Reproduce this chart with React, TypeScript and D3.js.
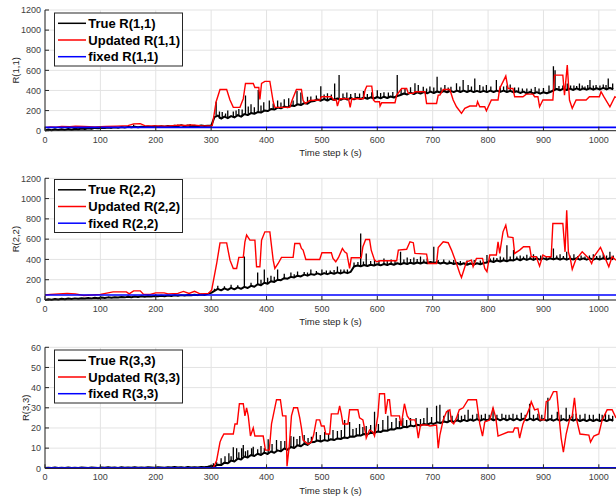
import React from 'react';
import * as d3 from 'd3';

// ---------- DATA ----------
const kStep = 6; // sample spacing of the "True" baseline (time steps)
const xTicks = [0, 100, 200, 300, 400, 500, 600, 700, 800, 900, 1000];
const yTicksR12 = [0, 200, 400, 600, 800, 1000, 1200];
const yTicksR3 = [0, 10, 20, 30, 40, 50, 60];

// True R(1,1): noisy baseline sampled every 6 steps, plus narrow spikes [k, peak]
const trueR11 = [
  2,12,4,15,6,14,8,18,10,20, 14,22,16,25,20,28,24,30,26,32, 28,34,30,36,32,38,34,40,35,40,
  36,42,38,44,40,45,40,46,42,50, 44,55,45,52,44,50,45,52,46,50, 48,
  135,150,120,140,125,145,132,155,140,165, 155,175,168,185,180,200,195,215,210,230,
  222,240,232,250,245,262,255,275,268,290,
  295,310,298,315,300,318,305,320,308,322, 310,325,312,328,315,330,318,332,320,335,
  322,338,325,340,330,345,355,370,360,378, 365,382,370,385,372,388,375,390,380,395,
  382,396,384,398,385,398,385,398,384,396, 384,396,384,398,385,398,386,398,385,396,
  382,392,375,388,372,385,370,383,368,382, 372,385,400,415,402,418,405,418,405,420,
  405,420,408,422,408,422,410,425,410,425, 412
];
const spikesR11: [number, number][] = [
  [160,62],[240,62],[262,66],[309,288],[315,190],[320,185],[326,170],[330,200],[340,190],[345,200],[350,215],
  [356,210],[362,350],[367,240],[372,262],[378,232],[385,404],[390,250],[395,282],[405,300],[412,270],[420,300],
  [426,280],[432,312],[440,322],[448,300],[455,395],[462,380],[474,338],[480,340],
  [490,350],[498,443],[504,360],[510,372],[517,360],[523,470],[531,553],[538,370],[545,380],[552,365],[560,376],
  [568,370],[575,395],[582,365],[590,382],[600,402],[606,375],[612,382],[620,380],[628,385],
  [636,553],[643,410],[650,420],[660,432],[668,471],[674,454],[683,437],[689,420],[695,440],[702,430],[708,537],
  [715,430],[722,454],[728,430],[733,437],[743,471],[749,440],[755,504],[764,454],[770,440],[776,520],[785,454],
  [791,440],[797,454],[805,440],[815,504],[822,445],[828,440],[834,450],[840,460],[848,430],[855,430],[862,420],
  [870,420],[878,418],[885,435],[892,420],[900,425],[910,450],[918,642],[921,600],[928,445],[935,450],[943,470],
  [949,450],[955,450],[960,445],[965,470],[970,450],[975,440],[980,455],[984,503],[990,450],[995,455],[1002,450],
  [1008,460],[1013,455],[1017,520],[1025,470]
];
const updR11: [number, number][] = [
  [0,30],[10,38],[20,35],[30,42],[45,40],[55,45],[70,42],[90,38],[110,42],[130,45],[150,50],
  [160,68],[172,70],[180,50],[200,48],[220,45],[240,55],[255,52],[265,58],[280,50],[295,48],[302,50],
  [305,150],[309,288],[316,410],[328,410],[334,305],[340,232],[352,232],[358,318],[362,470],[376,470],
  [379,430],[386,430],[388,310],[391,470],[397,490],[406,490],[412,290],[415,232],[442,232],[446,300],
  [454,410],[463,410],[466,300],[470,270],[478,300],[496,305],[499,338],[517,338],[521,305],[526,305],
  [528,245],[532,318],[548,318],[551,232],[554,318],[575,318],[578,404],[581,443],[590,443],[593,305],
  [596,288],[604,288],[605,245],[608,278],[632,278],[635,354],[644,420],[653,420],[656,371],[665,371],
  [668,387],[686,387],[689,271],[707,271],[710,354],[713,354],[719,410],[731,410],[737,305],[743,238],
  [752,172],[758,222],[767,245],[779,245],[781,288],[785,238],[794,238],[797,199],[806,305],[818,305],
  [821,420],[832,543],[836,420],[845,420],[848,338],[863,338],[869,364],[881,364],[884,338],[890,338],
  [893,238],[899,305],[917,305],[920,553],[935,553],[938,354],[943,652],[947,305],[952,222],[959,305],
  [977,305],[983,338],[1001,338],[1004,387],[1009,338],[1020,238],[1029,338],[1031,330]
];
const fixedR11 = 33;

const trueR22 = [
  0,8,3,10,5,12,8,15,10,16, 12,18,14,20,16,22,18,25,20,26, 22,28,24,30,26,32,28,34,30,36,
  32,38,34,40,36,42,38,44,40,46, 42,48,44,50,46,52,48,55,50,60, 70,
  90,110,95,115,100,120,105,125,110,130, 118,140,130,155,145,170,160,185,178,200,
  195,215,210,228,222,240,232,250,240,255,
  248,262,250,265,255,268,258,272,262,275, 265,278,330,340,332,345,335,348,340,352,
  342,355,345,358,348,362,352,365,355,368, 358,370,360,372,362,375,365,372,360,370,
  358,368,355,365,350,362,348,360,350,362, 352,365,370,385,375,390,380,392,382,395,
  390,405,392,408,395,408,395,410,398,410, 398,412,400,412,398,410,398,410,400,412,
  398,410,398,410,398,410,400,412,400,412, 402
];
const spikesR22: [number, number][] = [
  [150,45],[200,56],[260,62],[306,110],[312,140],[324,135],[336,150],[348,145],[360,430],[372,170],[384,270],
  [390,200],[396,300],[402,220],[408,240],[414,230],[420,300],[432,260],[444,270],[450,255],[456,280],[468,275],
  [474,270],[480,300],[490,285],[500,300],[508,290],[515,290],[522,295],[528,330],[534,300],[540,300],[546,300],
  [558,370],[565,375],[570,656],[575,380],[580,459],[588,385],[595,400],[603,390],[612,410],[618,395],[625,400],
  [632,395],[642,475],[648,400],[654,420],[660,405],[666,420],[672,405],[678,430],[684,400],[690,410],[702,525],
  [710,395],[720,400],[730,390],[738,395],[750,385],[762,390],[775,395],[786,390],[798,443],[804,410],[810,420],
  [816,415],[822,430],[828,420],[834,541],[840,430],[846,492],[852,430],[858,440],[864,430],[870,445],[876,430],
  [882,450],[888,430],[895,440],[905,435],[912,430],[918,508],[924,440],[930,450],[936,435],[942,475],[948,440],
  [955,450],[962,435],[968,440],[975,430],[983,440],[990,450],[996,435],[1002,440],[1008,459],[1014,440],
  [1020,475],[1026,440]
];
const updR22: [number, number][] = [
  [0,50],[10,55],[25,60],[40,65],[55,60],[70,45],[85,50],[100,55],[123,80],[147,80],[152,60],
  [160,90],[172,90],[178,55],[190,55],[200,70],[215,70],[222,60],[240,65],[250,85],[260,65],[270,85],
  [280,60],[295,65],[301,100],[310,360],[316,563],[328,563],[334,393],[340,311],[346,311],[350,420],
  [358,420],[361,574],[364,640],[370,590],[379,590],[382,328],[388,328],[391,590],[397,672],[406,672],
  [412,393],[415,311],[421,360],[427,420],[448,420],[451,557],[460,557],[463,508],[466,492],[471,400],
  [496,400],[500,466],[517,466],[520,410],[525,377],[530,420],[537,508],[541,475],[545,459],[550,311],
  [553,416],[571,416],[574,525],[579,597],[586,597],[589,492],[595,393],[599,377],[605,387],[635,387],
  [638,492],[653,500],[659,574],[665,565],[668,459],[689,452],[692,360],[707,360],[710,518],[719,574],
  [728,565],[734,492],[743,360],[749,262],[752,223],[756,290],[761,377],[770,393],[773,328],[779,410],
  [790,410],[794,311],[798,279],[803,443],[815,443],[818,574],[821,459],[827,672],[832,738],[836,623],
  [845,615],[848,459],[857,492],[864,525],[875,525],[878,426],[887,426],[893,334],[899,443],[905,426],
  [914,426],[917,754],[935,754],[939,475],[942,885],[945,475],[949,393],[952,302],[958,393],[970,475],
  [982,410],[987,360],[991,426],[1003,518],[1009,443],[1018,328],[1024,426],[1031,393]
];
const fixedR22 = 50;

const trueR33 = [
  0.1,0.3,0.2,0.4,0.2,0.3,0.1,0.4,0.2,0.3, 0.2,0.4,0.3,0.2,0.4,0.3,0.2,0.4,0.3,0.5,
  0.3,0.4,0.2,0.5,0.3,0.4,0.3,0.5,0.3,0.4, 0.3,0.5,0.4,0.3,0.5,0.4,0.3,0.5,0.4,0.6,
  0.4,0.5,0.3,0.6,0.4,0.5,0.4,0.6,0.5,0.8, 1.2,
  1.0,1.8,1.6,2.8,2.5,3.8,3.4,4.8,4.4,5.8, 5.4,6.6,6.1,7.2,6.6,7.8,7.1,8.3,7.7,8.9,
  8.4,9.8,9.2,10.6,10.1,11.4,10.9,12.2,11.6,12.9,
  13,13.8,13.3,14,13.6,14.4,14,14.8,14.5,15.3, 15,15.8,15.6,16.4,16.2,17,16.8,17.6,17.4,18.2,
  18,18.8,18.6,19.4,19.2,20,19.8,20.6,20.4,21.2, 20.8,21.6,21.2,22,21.6,22.4,22,22.8,22.4,23.2,
  22.8,23.6,23,23.8,23.2,24,23.4,24.2,23.6,24.4, 23.6,24.4,23.8,24.6,23.8,24.6,23.8,24.6,23.8,24.6,
  23.8,24.6,23.8,24.6,23.8,24.6,23.8,24.6,23.6,24.4, 23.6,24.4,23.6,24.4,23.6,24.4,23.6,24.4,23.6,24.4,
  23.4,24.2,23.4,24.2,23.4,24.2,23.4,24.2,23.4,24.2, 23.6
];
const spikesR33: [number, number][] = [
  [304,2.5],[310,3],[318,5],[325,6],[332,7.5],[336,6],[340,10.4],[346,9.9],[350,8],[355,10],[358,11.5],[362,8.5],
  [366,9],[373,9.9],[376,10.7],[384,9.5],[390,11],[396,10],[403,14.4],[410,12],[418,14],[426,13.5],[433,13.5],
  [444,16],[449,15.7],[455,14.5],[460,16],[468,16.5],[475,15],[481,15.7],[490,18],[497,16.5],[505,18],[512,17],
  [520,19],[528,18.5],[535,19],[541,24],[550,23],[556,19.5],[562,20],[568,22],[574,20.5],[580,21],[588,21.5],
  [595,28],[602,22],[610,24],[619,26],[626,23],[634,25],[640,23.5],[646,25],[653,24],[660,25],[670,25],
  [678,24.5],[684,25],[690,30],[698,25.5],[707,31],[713,31.5],[720,26],[728,29],[735,26],[746,27],[752,26],
  [758,26.5],[764,29],[772,26.5],[780,27],[788,26.5],[795,27],[802,26.5],[809,30],[816,26.5],[825,27],
  [832,26.5],[838,26.5],[845,27],[852,26.5],[860,27.5],[867,26.5],[875,32],[882,26.5],[890,27],[897,26.5],
  [908,35],[915,26.5],[925,28],[932,26.5],[941,30],[947,26.5],[953,27],[959,27],[966,26.5],[975,27],[983,26.5],
  [990,26.5],[1001,27],[1006,26.5],[1012,27],[1018,26.5],[1025,26]
];
const updR33: [number, number][] = [
  [0,0.3],[300,0.3],[304,0.3],[310,4],[316,13],[319,15],[323,17],[340,17],[343,22],[347,22],[351,32],
  [358,32],[361,26],[364,30],[367,26],[371,16],[376,20],[379,16],[394,16],[398,9],[405,9],[409,22],
  [418,34],[425,34],[429,26],[435,26],[437,1],[441,11],[445,26],[449,30],[456,30],[460,25],[463,20],
  [466,14],[475,12],[481,13],[485,16.5],[490,24],[496,24],[499,21],[504,21],[507,17],[514,17],[517,27],
  [529,27],[532,31],[535,27],[538,22],[547,22],[550,29],[565,29],[568,25],[574,24],[579,17],[580,15],
  [586,19],[592,18],[595,16],[601,26],[604,37],[613,37],[615,27],[619,34],[622,34],[625,26],[640,26],
  [643,21],[649,32],[654,26],[659,24],[668,24],[671,21],[674,15],[678,21.5],[689,21.5],[695,21],
  [707,21.5],[710,10],[713,16.5],[719,24],[725,28],[731,29],[734,23],[738,22],[743,25],[748,29],
  [755,30],[764,34],[779,34],[785,22],[790,16],[794,23],[803,24],[809,30],[814,25],[818,16],[836,18],
  [845,18],[848,20],[854,20],[857,15],[863,22],[869,26],[875,30],[878,33],[884,29],[890,29.5],[894,24],
  [902,24],[905,33],[911,34],[918,38],[924,38],[928,26],[932,15],[936,8],[941,17],[947,24],[952,26],
  [956,35],[960,24],[966,17],[982,16.5],[985,13],[991,16],[1000,17],[1006,24],[1015,29],[1024,29],[1031,25]
];
const fixedR33 = 0.3;

// ---------- LAYOUT ----------
const W = 616, H = 498;
const xMax = 1031;
const x = d3.scaleLinear().domain([0, xMax]).range([45, 616]);
const axisColor = '#262626';
const gridColor = '#e3e3e3';
const font = 'Arial, "Liberation Sans", Helvetica, sans-serif';

type PanelProps = {
  top: number; bottom: number; yMax: number; yTicks: number[];
  trueV: number[]; spikes: [number, number][]; upd: [number, number][]; fixed: number; idx: string;
  legendTop: number; yLabelX: number;
};

function Panel({ top, bottom, yMax, yTicks, trueV, spikes, upd, fixed, idx, legendTop, yLabelX }: PanelProps) {
  const y = d3.scaleLinear().domain([0, yMax]).range([bottom, top]);
  const line = d3.line<[number, number]>().x(d => x(d[0])).y(d => y(d[1]));
  const truePts: [number, number][] = trueV.map((v, i) => [i * kStep, v]);
  const spikePath = spikes
    .map(([k, peak]) => {
      const base = trueV[Math.min(trueV.length - 1, Math.round(k / kStep))];
      return line([[k, base], [k, peak]]);
    })
    .join('');
  const fixedPts: [number, number][] = [[0, fixed], [xMax, fixed]];
  const left = x(0), right = x(xMax);
  const lgX = 54.5, lgW = 128, lgH = 53;
  const cid = 'clip' + idx.replace(',', '_');
  const rows = [
    { name: `True R(${idx})`, color: '#000000' },
    { name: `Updated R(${idx})`, color: '#ff0000' },
    { name: `fixed R(${idx})`, color: '#0000ff' },
  ];
  return (
    <g>
      {xTicks.map(t => (
        <line key={'gx' + t} x1={x(t)} x2={x(t)} y1={top} y2={bottom} stroke={gridColor} strokeWidth={1} />
      ))}
      {yTicks.map(t => (
        <line key={'gy' + t} x1={left} x2={right} y1={y(t)} y2={y(t)} stroke={gridColor} strokeWidth={1} />
      ))}
      <defs>
        <clipPath id={cid}>
          <rect x={left} y={top - 2} width={right - left} height={bottom - top + 4} />
        </clipPath>
      </defs>
      <g clipPath={`url(#${cid})`}>
        <path d={line(truePts) || ''} fill="none" stroke="#000" strokeWidth={2} strokeLinejoin="round" />
        <path d={spikePath} fill="none" stroke="#000" strokeWidth={1.3} />
        <path d={line(upd) || ''} fill="none" stroke="#ff0000" strokeWidth={1.4} />
        <path d={line(fixedPts) || ''} fill="none" stroke="#0000ff" strokeWidth={1.6} />
      </g>
      <line x1={left} x2={right} y1={bottom} y2={bottom} stroke={axisColor} strokeWidth={1} />
      <line x1={left} x2={left} y1={top} y2={bottom} stroke={axisColor} strokeWidth={1} />
      {xTicks.map(t => (
        <g key={'xt' + t}>
          <line x1={x(t)} x2={x(t)} y1={bottom} y2={bottom - 4} stroke={axisColor} />
          <text x={x(t)} y={bottom + 12} textAnchor="middle" fontSize={9} fill="#404040" fontFamily={font}>{t}</text>
        </g>
      ))}
      {yTicks.map(t => (
        <g key={'yt' + t}>
          <line x1={left} x2={left + 4} y1={y(t)} y2={y(t)} stroke={axisColor} />
          <text x={left - 4} y={y(t) + 3.2} textAnchor="end" fontSize={9} fill="#404040" fontFamily={font}>{t}</text>
        </g>
      ))}
      <text x={(left + right) / 2} y={bottom + 25.3} textAnchor="middle" fontSize={9.5} fill="#262626" fontFamily={font}>Time step k (s)</text>
      <text transform={`translate(${yLabelX},${(top + bottom) / 2}) rotate(-90)`} textAnchor="middle" dominantBaseline="central" fontSize={9.5} fill="#262626" fontFamily={font}>{`R(${idx})`}</text>
      <rect x={lgX} y={legendTop} width={lgW} height={lgH} fill="#fff" stroke={axisColor} strokeWidth={1} />
      {rows.map((r, i) => {
        const cy = legendTop + 10.3 + i * 16.7;
        return (
          <g key={r.name}>
            <line x1={58} x2={86} y1={cy} y2={cy} stroke={r.color} strokeWidth={1.5} />
            <text x={88.3} y={cy} dominantBaseline="central" fontSize={13} fontWeight="bold" fill="#000" fontFamily={font}>{r.name}</text>
          </g>
        );
      })}
    </g>
  );
}

export default function App() {
  return (
    <svg width={W} height={H} style={{ position: 'absolute', left: 0, top: 0, background: '#fff' }}>
      <rect x={0} y={0} width={W} height={H} fill="#fff" />
      <Panel top={10} bottom={130.7} yMax={1200} yTicks={yTicksR12} trueV={trueR11} spikes={spikesR11} upd={updR11} fixed={fixedR11} idx="1,1" legendTop={13} yLabelX={15} />
      <Panel top={178.3} bottom={300} yMax={1200} yTicks={yTicksR12} trueV={trueR22} spikes={spikesR22} upd={updR22} fixed={fixedR22} idx="2,2" legendTop={179.5} yLabelX={15} />
      <Panel top={347.3} bottom={468.3} yMax={60} yTicks={yTicksR3} trueV={trueR33} spikes={spikesR33} upd={updR33} fixed={fixedR33} idx="3,3" legendTop={350} yLabelX={25.5} />
    </svg>
  );
}
